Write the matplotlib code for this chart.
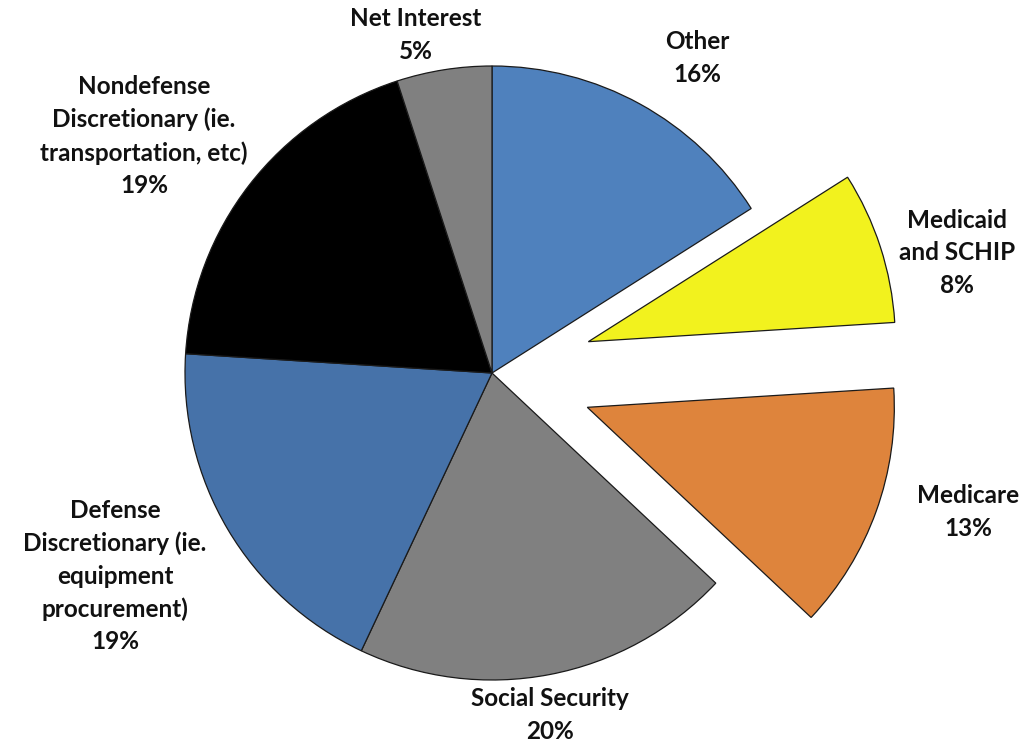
import matplotlib
matplotlib.use("Agg")
import matplotlib.pyplot as plt

categories = ["Other", "Medicaid\nand SCHIP", "Medicare", "Social Security",
              "Defense\nDiscretionary (ie.\nequipment\nprocurement)",
              "Nondefense\nDiscretionary (ie.\ntransportation, etc)", "Net Interest"]
values = [16, 8, 13, 20, 19, 19, 5]
explode = [0, 0.33, 0.33, 0, 0, 0, 0]
colors = ["#4F81BD", "#F2F21E", "#DE843C", "#808080", "#4672A9", "#000000", "#808080"]

# label anchor positions (pixel coords, top-left origin), center of text block
label_pos = [(697, 58), (957, 253), (968, 512), (550, 715),
             (115, 576), (144, 136), (416, 35)]

W, H = 1030, 742
fig = plt.figure(figsize=(W / 100, H / 100), dpi=100)
ax = fig.add_axes([0, 0, 1, 1])

cx, cy, r = 492, H - 373, 307
ax.pie(values, explode=[e * r for e in explode], colors=colors, startangle=90,
       counterclock=False, center=(cx, cy), radius=r, frame=True,
       wedgeprops=dict(edgecolor="#1a1a1a", linewidth=0.9))
ax.set_xlim(0, W)
ax.set_ylim(0, H)
ax.set_aspect("equal")
ax.axis("off")

for name, v, (x, y) in zip(categories, values, label_pos):
    ax.text(x, H - y, f"{name}\n{v}%", ha="center", va="center",
            fontsize=17.5, fontweight="bold", family="Lato", color="#111111",
            linespacing=1.5)

fig.savefig("out.png", dpi=100, facecolor="white")
